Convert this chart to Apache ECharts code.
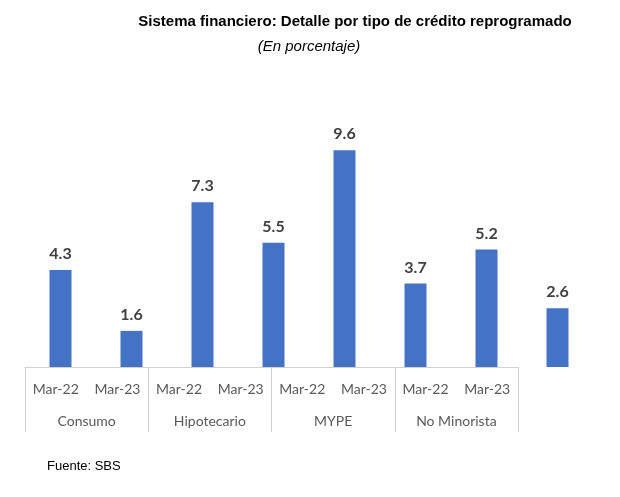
<!DOCTYPE html>
<html>
<head>
<meta charset="utf-8">
<script src="https://cdn.jsdelivr.net/npm/echarts@6/dist/echarts.min.js"></script>
<style>html,body{margin:0;padding:0;background:#fff;}#c{width:620px;height:497px;}</style>
</head>
<body>
<div id="c"></div>
<script>
const periods = ['Mar-22','Mar-23','Mar-22','Mar-23','Mar-22','Mar-23','Mar-22','Mar-23'];
const groups = ['Consumo','Hipotecario','MYPE','No Minorista'];
const values = [4.3, 1.6, 7.3, 5.5, 9.6, 3.7, 5.2, 2.6];
const titleText = 'Sistema financiero: Detalle por tipo de crédito reprogramado';
const subtitleText = '(En porcentaje)';
const sourceText = 'Fuente: SBS';

const chart = echarts.init(document.getElementById('c'));
const labelFont = 'Lato, "Open Sans", sans-serif';
chart.setOption({
  animation: false,
  backgroundColor: '#fff',
  graphic: [
    {type:'text', x: 355, y: 22, style:{text: titleText, textAlign:'center', textVerticalAlign:'middle', font:'bold 15px "Liberation Sans", Arial, sans-serif', fill:'#000'}},
    {type:'text', x: 309, y: 47, style:{text: subtitleText, textAlign:'center', textVerticalAlign:'middle', font:'italic 15px "Liberation Sans", Arial, sans-serif', fill:'#000'}},
    {type:'text', x: 47, y: 466, style:{text: sourceText, textAlign:'left', textVerticalAlign:'middle', font:'13px "Liberation Sans", Arial, sans-serif', fill:'#000'}}
  ],
  grid: [
    {left: 25, width: 568, top: 96, height: 271},
    {left: 25, width: 493, top: 96, height: 271}
  ],
  xAxis: [
    {type:'category', gridIndex:0, data: periods, show:false},
    {type:'category', gridIndex:1, data: periods, position:'bottom',
      axisLine:{show:true, lineStyle:{color:'#d0d0d0', width:1}},
      axisTick:{show:false},
      axisLabel:{color:'#595959', fontSize:14, fontFamily: labelFont, margin:15, interval:0}},
    {type:'category', gridIndex:1, data: groups, position:'bottom',
      axisLine:{show:false},
      axisTick:{show:true, length:65, lineStyle:{color:'#d0d0d0', width:1}},
      axisLabel:{color:'#595959', fontSize:14, fontFamily: labelFont, margin:47, interval:0}}
  ],
  yAxis: [
    {type:'value', gridIndex:0, min:0, max:12, show:false},
    {type:'value', gridIndex:1, min:0, max:12, show:false}
  ],
  series: [{
    type:'bar', xAxisIndex:0, yAxisIndex:0, data: values, barWidth: 22,
    itemStyle:{color:'#4472C4'},
    label:{show:true, position:'top', distance:8, color:'#404040', fontSize:16, fontWeight:'bold', fontFamily: labelFont, formatter: p => p.value.toFixed(1)}
  }]
});
</script>
</body>
</html>
